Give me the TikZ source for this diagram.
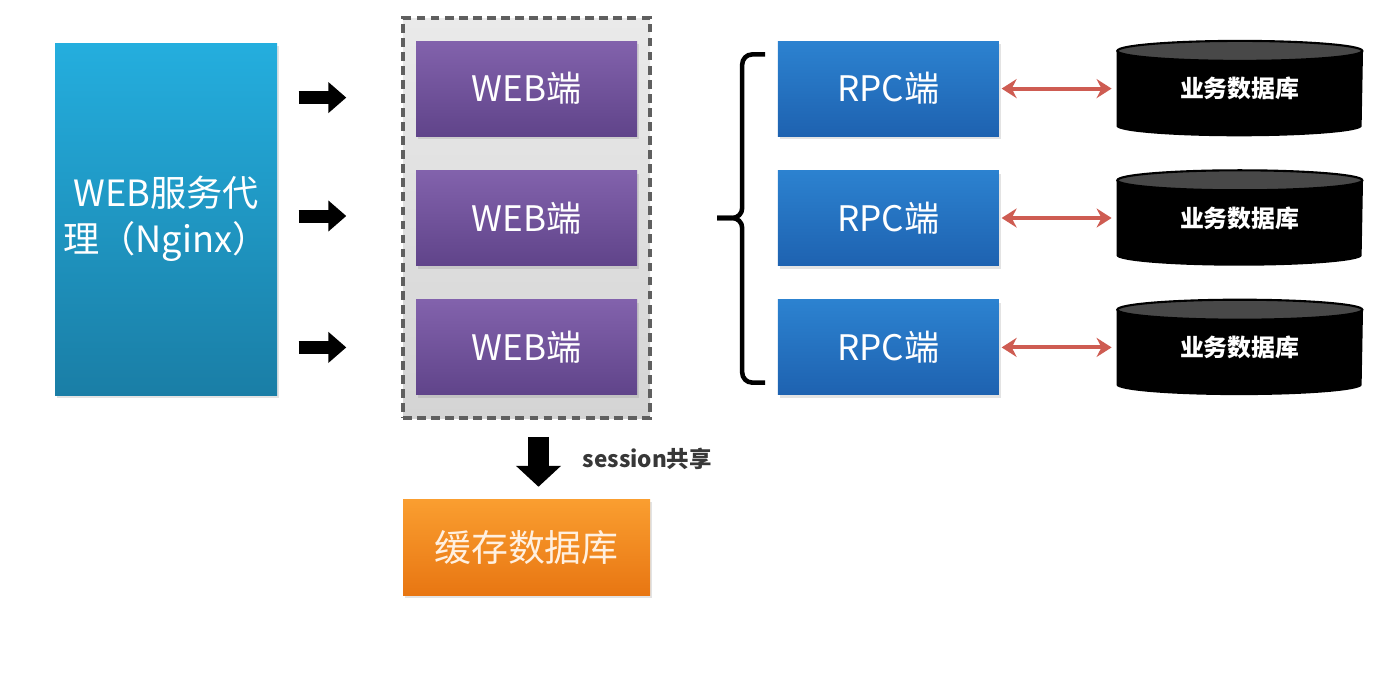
\documentclass[tikz,border=0pt]{standalone}
\usepackage{fontspec}
\setmainfont{Noto Sans CJK SC}
\usetikzlibrary{positioning,arrows.meta,calc,shadows,backgrounds}
\definecolor{ProxyTop}{RGB}{36,174,222}
\definecolor{ProxyBottom}{RGB}{26,126,166}
\definecolor{WebTop}{RGB}{130,98,172}
\definecolor{WebBottom}{RGB}{96,68,138}
\definecolor{RpcTop}{RGB}{44,130,208}
\definecolor{RpcBottom}{RGB}{30,98,176}
\definecolor{CacheTop}{RGB}{250,158,48}
\definecolor{CacheBottom}{RGB}{232,118,18}
\definecolor{GroupTop}{RGB}{234,234,234}
\definecolor{GroupBottom}{RGB}{212,212,212}
\definecolor{GroupLine}{RGB}{95,95,95}
\definecolor{DbTop}{RGB}{72,72,72}
\definecolor{LinkRed}{RGB}{206,92,82}
\definecolor{NoteGray}{RGB}{55,55,55}
\tikzset{
  blockflow/.style={-{Triangle[length=0.18cm,width=0.3cm]},line width=0.13cm,draw=black},
  downflow/.style={-{Triangle[length=0.21cm,width=0.44cm]},line width=0.21cm,draw=black},
  dbflow/.style={{Stealth[length=0.15cm,width=0.19cm]}-{Stealth[length=0.15cm,width=0.19cm]},line width=1.1pt,draw=LinkRed},
  braceline/.style={line width=1.3pt,rounded corners=0.1cm,draw=black},
  softshadow/.style={drop shadow={opacity=0.22,shadow xshift=0.02cm,shadow yshift=-0.03cm}},
  proxybox/.style={softshadow,top color=ProxyTop,bottom color=ProxyBottom,
    minimum width=2.22cm,minimum height=3.52cm,inner xsep=0pt,align=center,text=white,
    font=\fontsize{10.3}{13}\selectfont},
  webbox/.style={softshadow,top color=WebTop,bottom color=WebBottom,
    minimum width=2.21cm,minimum height=0.95cm,text=white,font=\fontsize{10}{12}\selectfont},
  rpcbox/.style={softshadow,top color=RpcTop,bottom color=RpcBottom,
    minimum width=2.21cm,minimum height=0.95cm,text=white,font=\fontsize{10}{12}\selectfont},
  cachebox/.style={softshadow,top color=CacheTop,bottom color=CacheBottom,
    minimum width=2.47cm,minimum height=0.96cm,text=white!88!orange,font=\fontsize{10.5}{12}\selectfont},
  groupbox/.style={draw=GroupLine,dash pattern=on 2.5pt off 1.5pt,line width=1pt,
    top color=GroupTop,bottom color=GroupBottom,minimum width=2.47cm,minimum height=4cm},
  dbbox/.style={minimum width=2.45cm,minimum height=0.94cm,text=white,
    font=\fontsize{6.8}{8}\selectfont\bfseries},
  sessionlabel/.style={text=NoteGray,font=\fontsize{6.4}{8}\selectfont\bfseries,anchor=west}
}
\begin{document}
\begin{tikzpicture}[node distance=0.33cm]
  \useasboundingbox (0,0) rectangle (14,-6.75);
  \node[proxybox] (nginx) at (1.66,-2.19) {WEB服务代\\理（Nginx）};
  \node[groupbox] (group) at (5.265,-2.18) {};
  \node[webbox] (web2) at (5.265,-2.18) {WEB端};
  \node[webbox,above=of web2] (web1) {WEB端};
  \node[webbox,below=of web2] (web3) {WEB端};
  \node[cachebox,below=0.79cm of group] (cache) {缓存数据库};
  \node[rpcbox,right=1.395cm of web2] (rpc2) {RPC端};
  \node[rpcbox,above=of rpc2] (rpc1) {RPC端};
  \node[rpcbox,below=of rpc2] (rpc3) {RPC端};
  \node[dbbox,right=1.17cm of rpc1] (db1) {业务数据库};
  \node[dbbox,right=1.17cm of rpc2] (db2) {业务数据库};
  \node[dbbox,right=1.17cm of rpc3] (db3) {业务数据库};
  \begin{scope}[on background layer]
    \foreach \d in {db1,db2,db3}{
      \fill[black] ([yshift=-0.1cm]\d.north west) -- ([yshift=0.1cm]\d.south west)
        arc[start angle=180,end angle=360,x radius=1.225cm,y radius=0.1cm]
        -- ([yshift=-0.1cm]\d.north east) -- cycle;
      \filldraw[fill=DbTop,draw=black,line width=0.6pt] ([yshift=-0.1cm]\d.north)
        ellipse[x radius=1.225cm,y radius=0.1cm];
    }
  \end{scope}
  \foreach \w/\dy in {web1/-0.09,web2/0.02,web3/0}
    \draw[blockflow,shorten <=0.21cm,shorten >=0.69cm]
      ([yshift=\dy cm]nginx.east |- \w) -- ([yshift=\dy cm]\w.west);
  \draw[downflow,shorten <=0.17cm,shorten >=0.12cm] ([xshift=0.12cm]group.south)
    -- node[sessionlabel,right=0.22cm] {session共享} ([xshift=0.12cm]cache.north);
  \coordinate (btop) at ([xshift=-0.12cm,yshift=-0.14cm]rpc1.north west);
  \coordinate (bbot) at ([xshift=-0.12cm,yshift=0.13cm]rpc3.south west);
  \coordinate (btip) at ([xshift=-0.6cm]rpc2.west);
  \draw[braceline] (btop) -- ++(-0.23,0) |- (btip);
  \draw[braceline] (bbot) -- ++(-0.23,0) |- (btip);
  \draw[dbflow,shorten <=0.02cm,shorten >=0.05cm] (rpc1.east) -- (db1.west);
  \draw[dbflow,shorten <=0.02cm,shorten >=0.05cm] (rpc2.east) -- (db2.west);
  \draw[dbflow,shorten <=0.02cm,shorten >=0.05cm] (rpc3.east) -- (db3.west);
\end{tikzpicture}
\end{document}
